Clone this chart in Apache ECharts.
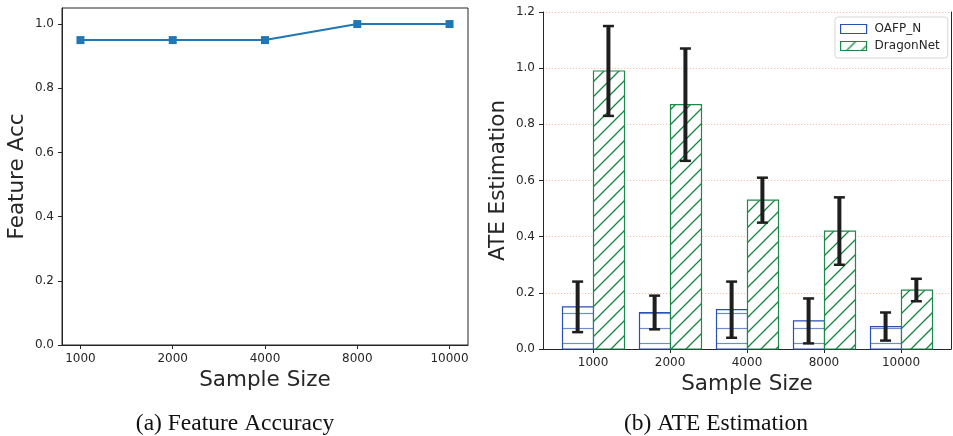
<!DOCTYPE html>
<html>
<head>
<meta charset="utf-8">
<script src="https://cdn.jsdelivr.net/npm/echarts@6/dist/echarts.min.js"></script>
<style>
html,body{margin:0;padding:0;background:#fff;}
#chart{width:953px;height:436px;}
</style>
</head>
<body>
<div id="chart"></div>
<script>
// ---- data ----
const categories = ['1000', '2000', '4000', '8000', '10000'];
const featureAcc = [0.95, 0.95, 0.95, 1.0, 1.0];
const oafpMean = [0.15, 0.13, 0.14, 0.10, 0.08];
const oafpLow  = [0.06, 0.07, 0.04, 0.02, 0.03];
const oafpHigh = [0.24, 0.19, 0.24, 0.18, 0.13];
const dragonMean = [0.99, 0.87, 0.53, 0.42, 0.21];
const dragonLow  = [0.83, 0.67, 0.45, 0.30, 0.17];
const dragonHigh = [1.15, 1.07, 0.61, 0.54, 0.25];
const leftYTicks = [0, 0.2, 0.4, 0.6, 0.8, 1.0];
const rightYTicks = [0, 0.2, 0.4, 0.6, 0.8, 1.0, 1.2];
const xTickPos = [0, 1, 2, 3, 4];
const seriesNames = ['OAFP_N', 'DragonNet'];
const captions = ['(a) Feature Accuracy', '(b) ATE Estimation'];

// ---- styles ----
const FONT = 'DejaVu Sans';
const TXT = '#262626';
const AX = '#262626';
const BLUE_EDGE = '#2a4fb5';
const BLUE_HATCH = '#6f8ccc';
const GREEN_EDGE = '#1a8a48';
const GREEN_HATCH = '#14873f';

function makeHoriz() {
  const c = document.createElement('canvas');
  c.width = 15; c.height = 15;
  const g = c.getContext('2d');
  g.fillStyle = '#fff'; g.fillRect(0, 0, 15, 15);
  g.strokeStyle = BLUE_HATCH; g.lineWidth = 1.2;
  g.beginPath(); g.moveTo(0, 13.5); g.lineTo(15, 13.5); g.stroke();
  return { image: c, repeat: 'repeat' };
}
function makeDiag() {
  const c = document.createElement('canvas');
  c.width = 15; c.height = 15;
  const g = c.getContext('2d');
  g.fillStyle = '#fff'; g.fillRect(0, 0, 15, 15);
  g.strokeStyle = GREEN_HATCH; g.lineWidth = 1.3;
  g.beginPath();
  g.moveTo(-15, 15); g.lineTo(15, -15);
  g.moveTo(0, 15); g.lineTo(15, 0);
  g.moveTo(0, 30); g.lineTo(30, 0);
  g.stroke();
  return { image: c, repeat: 'repeat' };
}
const horizPat = makeHoriz();
const diagPat = makeDiag();

function fmt1(v) { return Number(v).toFixed(1); }

function barRender(offStart, fill, stroke) {
  return function (params, api) {
    const i = api.value(0), v = api.value(1);
    const p0 = api.coord([i + offStart, v]);
    const p1 = api.coord([i + offStart + 0.4, 0]);
    return {
      type: 'rect',
      shape: { x: Math.round(p0[0]) + 0.5, y: p0[1], width: Math.round(p1[0] - p0[0]), height: p1[1] - p0[1] },
      style: { fill: fill, stroke: stroke, lineWidth: 1.2 }
    };
  };
}
function errRender(off) {
  return function (params, api) {
    const i = api.value(0);
    const lo = api.coord([i + off, api.value(1)]);
    const hi = api.coord([i + off, api.value(2)]);
    const cw = 5.5;
    return {
      type: 'group',
      children: [
        { type: 'line', shape: { x1: lo[0], y1: lo[1], x2: hi[0], y2: hi[1] }, style: { stroke: '#1e1e1e', lineWidth: 4 } },
        { type: 'line', shape: { x1: lo[0] - cw, y1: lo[1], x2: lo[0] + cw, y2: lo[1] }, style: { stroke: '#1e1e1e', lineWidth: 2.5 } },
        { type: 'line', shape: { x1: hi[0] - cw, y1: hi[1], x2: hi[0] + cw, y2: hi[1] }, style: { stroke: '#1e1e1e', lineWidth: 2.5 } }
      ]
    };
  };
}

const axisLabelBase = { color: TXT, fontFamily: FONT, fontSize: 12 };
const nameStyle = { color: TXT, fontFamily: FONT, fontSize: 21.5 };

const chart = echarts.init(document.getElementById('chart'), null, { renderer: 'canvas' });
chart.setOption({
  animation: false,
  backgroundColor: '#fff',
  title: [
    { text: captions[0], left: 235, top: 412, textAlign: 'center', padding: 0,
      textStyle: { fontFamily: 'Liberation Serif', fontSize: 23.5, fontWeight: 'normal', color: '#111' } },
    { text: captions[1], left: 716, top: 412, textAlign: 'center', padding: 0,
      textStyle: { fontFamily: 'Liberation Serif', fontSize: 23.5, fontWeight: 'normal', color: '#111' } }
  ],
  legend: {
    left: 835, top: 17, orient: 'vertical',
    padding: [6, 8, 6, 5], itemGap: 5,
    itemWidth: 26, itemHeight: 9,
    backgroundColor: '#fff', borderColor: '#d6d6d6', borderWidth: 1, borderRadius: 3,
    textStyle: { color: TXT, fontFamily: FONT, fontSize: 12, padding: [0, 0, 0, 3] },
    data: [
      { name: seriesNames[0], icon: 'rect', itemStyle: { color: '#fff', borderColor: BLUE_EDGE, borderWidth: 1.2 } },
      { name: seriesNames[1], icon: 'rect', itemStyle: { color: diagPat, borderColor: GREEN_EDGE, borderWidth: 1.2 } }
    ],
    selectedMode: false
  },
  grid: [
    { left: 62, top: 8, width: 406, height: 337, show: true, borderColor: AX, borderWidth: 1, backgroundColor: 'transparent' },
    { left: 543, top: 12, width: 408, height: 337 }
  ],
  xAxis: [
    { gridIndex: 0, type: 'value', min: -0.2, max: 4.2,
      axisLine: { show: true, onZero: false, lineStyle: { color: AX } },
      axisTick: { show: true, length: 4, customValues: xTickPos, lineStyle: { color: AX } },
      axisLabel: Object.assign({ margin: 8, customValues: xTickPos, formatter: v => categories[Math.round(v)] }, axisLabelBase),
      splitLine: { show: false },
      name: 'Sample Size', nameLocation: 'middle', nameGap: 23, nameTextStyle: nameStyle },
    { gridIndex: 1, type: 'value', min: -0.65, max: 4.65,
      axisLine: { show: true, onZero: false, lineStyle: { color: AX } },
      axisTick: { show: true, length: 4, customValues: xTickPos, lineStyle: { color: AX } },
      axisLabel: Object.assign({ margin: 8, customValues: xTickPos, formatter: v => categories[Math.round(v)] }, axisLabelBase),
      splitLine: { show: false },
      name: 'Sample Size', nameLocation: 'middle', nameGap: 24, nameTextStyle: nameStyle }
  ],
  yAxis: [
    { gridIndex: 0, type: 'value', min: 0, max: 1.05,
      axisLine: { show: true, onZero: false, lineStyle: { color: AX } },
      axisTick: { show: true, length: 4, customValues: leftYTicks, lineStyle: { color: AX } },
      axisLabel: Object.assign({ margin: 8, customValues: leftYTicks, formatter: fmt1 }, axisLabelBase),
      splitLine: { show: false },
      name: 'Feature Acc', nameLocation: 'middle', nameGap: 34, nameTextStyle: nameStyle },
    { gridIndex: 1, type: 'value', min: 0, max: 1.2, interval: 0.2,
      axisLine: { show: true, onZero: false, lineStyle: { color: AX } },
      axisTick: { show: true, length: 4, lineStyle: { color: AX } },
      axisLabel: Object.assign({ margin: 8, formatter: fmt1 }, axisLabelBase),
      splitLine: { show: true, lineStyle: { color: '#f9c2ad', type: [1.2, 1.8], width: 1 } },
      name: 'ATE Estimation', nameLocation: 'middle', nameGap: 34, nameTextStyle: nameStyle },
    { gridIndex: 1, type: 'value', min: 0, max: 1.2, position: 'right',
      axisLine: { show: true, onZero: false, lineStyle: { color: AX } },
      axisTick: { show: false }, axisLabel: { show: false }, splitLine: { show: false } }
  ],
  series: [
    { type: 'line', name: 'Feature Acc', xAxisIndex: 0, yAxisIndex: 0,
      data: featureAcc.map((v, i) => [i, v]),
      symbol: 'rect', symbolSize: 8, silent: true,
      lineStyle: { color: '#1f77b4', width: 2 }, itemStyle: { color: '#1f77b4' } },
    { type: 'custom', name: seriesNames[0], xAxisIndex: 1, yAxisIndex: 1, silent: true, z: 2,
      itemStyle: { color: '#fff', borderColor: BLUE_EDGE },
      renderItem: barRender(-0.4, horizPat, BLUE_EDGE),
      data: oafpMean.map((v, i) => [i, v]) },
    { type: 'custom', name: seriesNames[1], xAxisIndex: 1, yAxisIndex: 1, silent: true, z: 2,
      itemStyle: { color: diagPat, borderColor: GREEN_EDGE },
      renderItem: barRender(0, diagPat, GREEN_EDGE),
      data: dragonMean.map((v, i) => [i, v]) },
    { type: 'custom', name: 'err1', xAxisIndex: 1, yAxisIndex: 1, silent: true, z: 5,
      renderItem: errRender(-0.2),
      data: oafpLow.map((v, i) => [i, v, oafpHigh[i]]) },
    { type: 'custom', name: 'err2', xAxisIndex: 1, yAxisIndex: 1, silent: true, z: 5,
      renderItem: errRender(0.2),
      data: dragonLow.map((v, i) => [i, v, dragonHigh[i]]) }
  ]
});
</script>
</body>
</html>
